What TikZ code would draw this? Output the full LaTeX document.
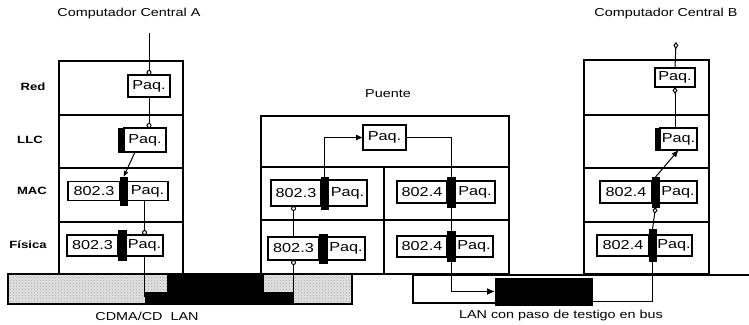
\documentclass[tikz,border=0pt]{standalone}
\usepackage{fontspec}
\usepackage{tikz}
\usetikzlibrary{arrows.meta,positioning,calc,patterns}
\newfontfamily\dgfont[FakeStretch=1.25]{Liberation Sans}
\newcommand{\boxfont}{\dgfont\fontsize{13}{15}\selectfont}
\newcommand{\capfont}{\dgfont\fontsize{11.5}{13}\selectfont}
\newcommand{\laycapfont}{\dgfont\fontsize{10.5}{12}\selectfont}

\begin{document}
\begin{tikzpicture}[
    x=1pt, y=-1pt,
    pkt/.style={draw=black, line width=1.2pt, fill=white, inner sep=0pt, outer sep=0pt, font=\boxfont},
    hdr/.style={draw=black, fill=black, inner sep=0pt, outer sep=0pt, minimum width=7pt},
    lanblk/.style={draw=black, fill=black, inner sep=0pt, outer sep=0pt},
    stack/.style={line width=1.2pt},
    wire/.style={line width=1pt},
    layerlabel/.style={font=\laycapfont\bfseries},
    title/.style={font=\capfont},
    omark/.style={-{Circle[open, length=5pt, width=5pt]}},
    dmark/.style={{Diamond[open, length=7pt, width=5pt]}-}
]
    \useasboundingbox (0,0) rectangle (749,324);

    % Titles
    \node[title] (tA) at (129,14) {Computador Central A};
    \node[title] (tB) at (666,14) {Computador Central B};
    \node[title] (tP) at (388,94) {Puente};
    \node[title] (lanA) at (147,316) {CDMA/CD\ \ LAN};
    \node[title] (lanB) at (561,316) {LAN con paso de testigo en bus};

    % Layer names
    \node[layerlabel] (lRed) at (33,87) {Red};
    \node[layerlabel] (lLLC) at (30,140) {LLC};
    \node[layerlabel] (lMAC) at (32,191) {MAC};
    \node[layerlabel] (lFis) at (28,245) {Física};

    % CSMA/CD LAN (dotted band)
    \fill[gray!22] (8,274) rectangle (352,304);
    \fill[pattern=crosshatch dots, pattern color=gray!75] (8,274) rectangle (352,304);
    \draw[stack] (8,274) rectangle (352,304);
    \node[lanblk, minimum width=96pt, minimum height=28pt] (blkA) at (215,289) {};

    % Token bus LAN
    \node[lanblk, minimum width=97pt, minimum height=27pt] (blkB) at (543.5,291.5) {};
    \draw[stack] (749,275) -- (413,275) -- (413,303) -- (blkB.west |- 0,303);

    % Host A stack
    \draw[stack] (59,61) rectangle (183,274);
    \foreach \yy in {115,168,222} {
        \draw[stack] (59,\yy) -- (183,\yy);
    }
    \node[pkt, minimum width=42pt, minimum height=22pt] (redA) at (149,86) {Paq.};
    \node[hdr, minimum width=6pt, minimum height=24pt] (llcAh) at (121,140) {};
    \node[pkt, minimum width=42pt, minimum height=24pt, right=0pt of llcAh] (llcAp) {Paq.};
    \node[pkt, minimum width=52pt, minimum height=19pt] (macAn) at (94,191) {802.3};
    \node[hdr, minimum height=28pt, right=0pt of macAn] (macAh) {};
    \node[pkt, minimum width=41pt, minimum height=19pt, right=0pt of macAh] (macAp) {Paq.};
    \node[pkt, minimum width=51pt, minimum height=21pt] (phyAn) at (92.5,245.5) {802.3};
    \node[hdr, minimum width=8pt, minimum height=30pt, right=0pt of phyAn] (phyAh) {};
    \node[pkt, minimum width=37pt, minimum height=21pt, right=0pt of phyAh] (phyAp) {Paq.};

    % Bridge
    \draw[stack] (261,116) rectangle (509,274);
    \draw[stack] (261,167) -- (509,167);
    \draw[stack] (261,220) -- (509,220);
    \draw[stack] (384,167) -- (384,274);
    \node[pkt, minimum width=43pt, minimum height=25pt] (topP) at (384.5,137.5) {Paq.};
    \node[pkt, minimum width=50pt, minimum height=26pt] (lmacN) at (296,193) {802.3};
    \node[hdr, minimum height=32pt, right=0pt of lmacN] (lmacH) {};
    \node[pkt, minimum width=39pt, minimum height=26pt, right=0pt of lmacH] (lmacP) {Paq.};
    \node[pkt, minimum width=51pt, minimum height=23pt] (lphyN) at (293.5,248.5) {802.3};
    \node[hdr, minimum width=8pt, minimum height=29pt, right=0pt of lphyN] (lphyH) {};
    \node[pkt, minimum width=38pt, minimum height=23pt, right=0pt of lphyH] (lphyP) {Paq.};
    \node[pkt, minimum width=50pt, minimum height=22pt] (rmacN) at (422,192) {802.4};
    \node[hdr, minimum width=8pt, minimum height=30pt, right=0pt of rmacN] (rmacH) {};
    \node[pkt, minimum width=40pt, minimum height=22pt, right=0pt of rmacH] (rmacP) {Paq.};
    \node[pkt, minimum width=50pt, minimum height=21pt] (rphyN) at (422,246.5) {802.4};
    \node[hdr, minimum width=8pt, minimum height=30pt, right=0pt of rphyN] (rphyH) {};
    \node[pkt, minimum width=38pt, minimum height=21pt, right=0pt of rphyH] (rphyP) {Paq.};

    % Host B stack
    \draw[stack] (584,60) rectangle (709,274);
    \foreach \yy in {115,168,222} {
        \draw[stack] (584,\yy) -- (709,\yy);
    }
    \node[pkt, minimum width=40pt, minimum height=19pt] (redB) at (675,77.5) {Paq.};
    \node[hdr, minimum width=5pt, minimum height=22pt] (llcBh) at (657.5,139) {};
    \node[pkt, minimum width=37pt, minimum height=22pt, right=0pt of llcBh] (llcBp) {Paq.};
    \node[pkt, minimum width=52pt, minimum height=22pt] (macBn) at (626,192) {802.4};
    \node[hdr, minimum height=30pt, right=0pt of macBn] (macBh) {};
    \node[pkt, minimum width=38pt, minimum height=22pt, right=0pt of macBh] (macBp) {Paq.};
    \node[pkt, minimum width=52pt, minimum height=21pt] (phyBn) at (623,245.5) {802.4};
    \node[hdr, minimum height=32pt, right=0pt of phyBn] (phyBh) {};
    \node[pkt, minimum width=36pt, minimum height=21pt, right=0pt of phyBh] (phyBp) {Paq.};

    % Free ends of wires
    \coordinate (inA) at (149,33);
    \coordinate (outB) at (676,42);
    \coordinate (jA) at (144.5,297);
    \coordinate (jL) at (293.5,297);
    \coordinate (jB) at (652.5,301);

    % Wires: host A
    \draw[wire, omark] (inA) -- (redA.north);
    \draw[wire, omark] (redA.south) -- (redA.south |- llcAp.north);
    \draw[wire, -{Latex[length=6pt, width=5pt]}] ([xshift=-10pt]llcAp.south) -- (macAh.north);
    \draw[wire, omark] (macAp.south -| phyAp.north) -- (phyAp.north);
    \draw[wire] (phyAp.south) -- (jA);
    \draw[line width=11pt] (jA) -- (jA -| blkA.west);

    % Wires: bridge
    \draw[wire, omark] (jL) -- (lphyN.south);
    \draw[line width=11pt] (jL) -- (jL -| blkA.east);
    \draw[wire, omark] (lphyN.north) -- (lphyN.north |- lmacN.south);
    \draw[wire, -{Latex[length=7pt, width=6pt]}] (lmacH.north) |- (topP.west);
    \draw[wire] (topP.east) -| (rmacH.north);
    \draw[wire, -{Latex[length=6pt, width=8pt]}] (rmacH.south) -- ([yshift=-4pt]rmacH.north);
    \draw[wire] (rmacH.south) -- (rphyH.north);
    \draw[wire, -{Latex[length=6pt, width=8pt]}] (rphyH.south) -- ([yshift=-4pt]rphyH.north);
    \draw[wire, -{Latex[length=8pt, width=7pt]}] (rphyH.south) |- (blkB.west);

    % Wires: host B
    \draw[wire, dmark] (outB) -- (redB.north);
    \draw[wire, dmark] (redB.south) -- (redB.south |- llcBp.north);
    \draw[wire, {Latex[length=7pt, width=6pt]}-] (llcBp.south) -- (macBh.north);
    \draw[wire, dmark] (macBh.south) -- (phyBh.north);
    \draw[wire] (phyBh.south) -- (jB) -- (jB -| blkB.east);

\end{tikzpicture}
\end{document}
